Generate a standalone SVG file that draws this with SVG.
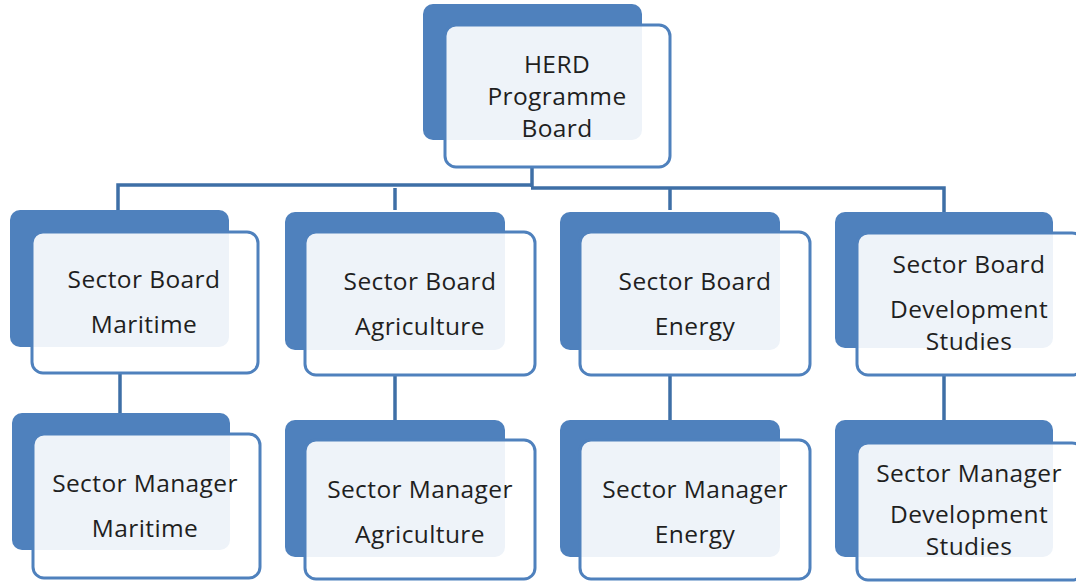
<svg xmlns="http://www.w3.org/2000/svg" width="1076" height="582" viewBox="0 0 1076 582">
<style>
.back{fill:#4f81bd;}
.front{fill:#ffffff;fill-opacity:0.9;stroke:#4f81bd;stroke-width:3;}
.conn{fill:none;stroke:#3e6fa6;stroke-width:3.5;}
text{font-family:"Open Sans","Liberation Sans",sans-serif;font-size:24.5px;letter-spacing:0.4px;fill:#1f1f1f;text-anchor:middle;}
</style>
<rect width="1076" height="582" fill="#ffffff"/>
<g id="connectors">
<path class="conn" d="M532 167 V187"/>
<path class="conn" d="M118 210 V185 H533"/>
<path class="conn" d="M531 188 H944 V212"/>
<path class="conn" d="M395 188 V210"/>
<path class="conn" d="M670 188 V210"/>
<path class="conn" d="M120 373 V413"/>
<path class="conn" d="M395 375 V420"/>
<path class="conn" d="M670 375 V420"/>
<path class="conn" d="M944 375 V420"/>
</g>
<g id="herd">
<rect class="back" x="423" y="4" width="219" height="136" rx="10"/>
<rect class="front" x="445" y="25" width="225" height="142" rx="11"/>
<text x="557" y="73">HERD</text>
<text x="557" y="105">Programme</text>
<text x="557" y="137">Board</text>
</g>
<g id="board-maritime">
<rect class="back" x="10" y="210" width="219" height="137" rx="10"/>
<rect class="front" x="32" y="232" width="226" height="141" rx="11"/>
<text x="144" y="288">Sector Board</text>
<text x="144" y="333">Maritime</text>
</g>
<g id="board-agriculture">
<rect class="back" x="285" y="212" width="220" height="138" rx="10"/>
<rect class="front" x="305" y="232" width="230" height="143" rx="11"/>
<text x="420" y="290">Sector Board</text>
<text x="420" y="335">Agriculture</text>
</g>
<g id="board-energy">
<rect class="back" x="560" y="212" width="220" height="138" rx="10"/>
<rect class="front" x="580" y="232" width="230" height="143" rx="11"/>
<text x="695" y="290">Sector Board</text>
<text x="695" y="335">Energy</text>
</g>
<g id="board-development">
<rect class="back" x="835" y="212" width="218" height="136" rx="10"/>
<rect class="front" x="857" y="233" width="226" height="142" rx="11"/>
<text x="969" y="273">Sector Board</text>
<text x="969" y="318">Development</text>
<text x="969" y="350">Studies</text>
</g>
<g id="manager-maritime">
<rect class="back" x="12" y="413" width="218" height="137" rx="10"/>
<rect class="front" x="33" y="434" width="227" height="144" rx="11"/>
<text x="145" y="492">Sector Manager</text>
<text x="145" y="537">Maritime</text>
</g>
<g id="manager-agriculture">
<rect class="back" x="285" y="420" width="220" height="137" rx="10"/>
<rect class="front" x="305" y="440" width="230" height="139" rx="11"/>
<text x="420" y="498">Sector Manager</text>
<text x="420" y="543">Agriculture</text>
</g>
<g id="manager-energy">
<rect class="back" x="560" y="420" width="220" height="137" rx="10"/>
<rect class="front" x="580" y="440" width="230" height="139" rx="11"/>
<text x="695" y="498">Sector Manager</text>
<text x="695" y="543">Energy</text>
</g>
<g id="manager-development">
<rect class="back" x="835" y="420" width="218" height="137" rx="10"/>
<rect class="front" x="857" y="443" width="226" height="137" rx="11"/>
<text x="969" y="482">Sector Manager</text>
<text x="969" y="523">Development</text>
<text x="969" y="555">Studies</text>
</g>
</svg>
